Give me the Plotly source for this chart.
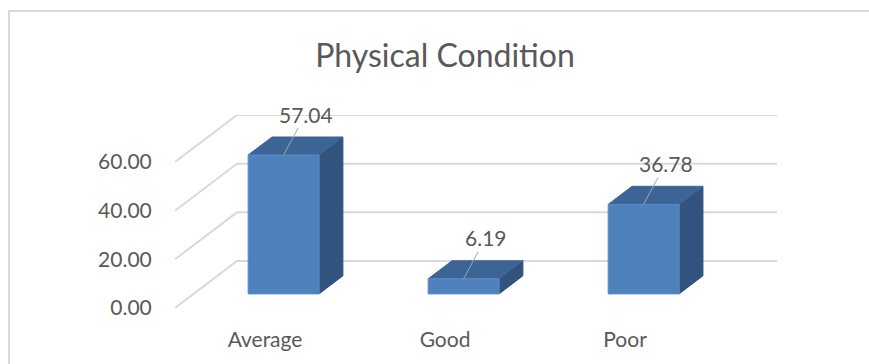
import plotly.graph_objects as go

# Chart data
categories = ["Average", "Good", "Poor"]
values = [57.04, 6.19, 36.78]
y_ticks = [0, 20, 40, 60]

# Oblique "3-D" projection settings (in axis units)
DX = 0.344        # horizontal shift of the back wall, in category units
DY = 19.3         # vertical shift of the back wall, in value units
F0 = 0.30         # depth fraction where each bar's front face sits
FD = 0.385        # depth fraction occupied by each bar
HW = 0.197        # half width of a bar, in category units

FRONT = "#4f81bd"
TOP = "#3c6494"
SIDE = "#31537d"
GRID = "#d9d9d9"
TEXT = "#595959"
FONT = "Lato"

W, H = 869, 364
L, R, T, B = 175, 92, 115, 56

fig = go.Figure()

# Floor/wall gridlines: diagonal from the front edge, then across the back wall
gx, gy = [], []
for v in y_ticks:
    gx += [-0.5, -0.5 + DX, len(categories) - 0.5 + DX, None]
    gy += [v, v + DY, v + DY, None]
fig.add_trace(go.Scatter(x=gx, y=gy, mode="lines",
                         line=dict(color=GRID, width=2),
                         hoverinfo="skip", showlegend=False))

def poly(xs, ys, color, line_color=None):
    fig.add_trace(go.Scatter(
        x=xs + [xs[0]], y=ys + [ys[0]], mode="lines", fill="toself",
        fillcolor=color, line=dict(color=line_color or color, width=1),
        hoverinfo="skip", showlegend=False))

for i, v in enumerate(values):
    cx = i + F0 * DX
    xl, xr = cx - HW, cx + HW
    yb = F0 * DY
    yt = yb + v
    ddx, ddy = FD * DX, FD * DY
    # right side face
    poly([xr, xr, xr + ddx, xr + ddx], [yb, yt, yt + ddy, yb + ddy], SIDE)
    # top face
    poly([xl, xr, xr + ddx, xl + ddx], [yt, yt, yt + ddy, yt + ddy], TOP)
    # front face
    poly([xl, xr, xr, xl], [yb, yb, yt, yt], FRONT, "#5b8dc8")
    # value label with leader line
    fig.add_annotation(x=cx, y=yt, text=f"{v:.2f}", showarrow=True,
                       arrowhead=0, arrowwidth=1, arrowcolor="#a6a6a6",
                       ax=22, ay=-41, standoff=0,
                       font=dict(family=FONT, size=21, color=TEXT))

fig.update_layout(
    width=W, height=H,
    margin=dict(l=L, r=R, t=T, b=B, autoexpand=False),
    paper_bgcolor="white", plot_bgcolor="white",
    title=dict(text="Physical Condition", x=445 / W, xref="container",
               xanchor="center", y=1 - 56 / H, yref="container",
               yanchor="middle",
               font=dict(family=FONT, size=32, color=TEXT)),
    xaxis=dict(range=[-0.5, len(categories) - 0.5 + DX],
               tickvals=list(range(len(categories))), ticktext=categories,
               showgrid=False, zeroline=False, showline=False,
               automargin=False,
               ticks="outside", ticklen=13, tickcolor="rgba(0,0,0,0)",
               tickfont=dict(family=FONT, size=21, color=TEXT)),
    yaxis=dict(range=[0, max(y_ticks) + DY], tickvals=y_ticks,
               tickformat=".2f",
               showgrid=False, zeroline=False, showline=False,
               automargin=False,
               ticks="outside", ticklen=18, tickcolor="rgba(0,0,0,0)",
               tickfont=dict(family=FONT, size=21, color=TEXT)),
    shapes=[dict(type="rect", xref="paper", yref="paper",
                 x0=(9 - L) / (W - L - R), x1=(900 - L) / (W - L - R),
                 y0=-(400 - (H - B)) / (H - T - B), y1=1 + (T - 11) / (H - T - B),
                 line=dict(color=GRID, width=2), layer="below")],
)

fig.write_html("out.html")
